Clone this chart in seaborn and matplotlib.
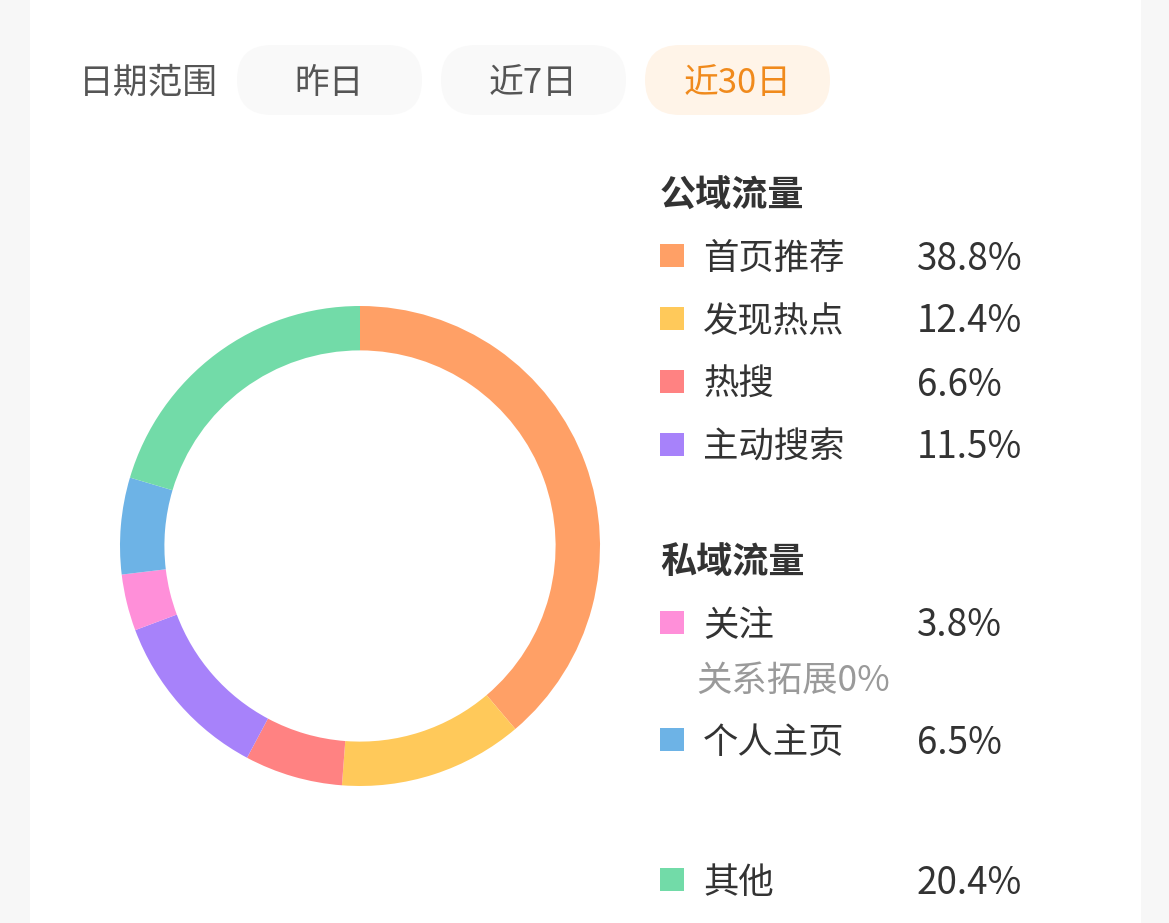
import matplotlib
matplotlib.use("Agg")
import matplotlib.pyplot as plt
import seaborn as sns
from matplotlib.patches import Rectangle, FancyBboxPatch

# data (clockwise from 12 o'clock)
labels = ['首页推荐', '发现热点', '热搜', '主动搜索', '关注', '个人主页', '其他']
shares = [38.8, 12.4, 6.6, 11.5, 3.8, 6.5, 20.4]
colors = ['#FFA066', '#FFC95A', '#FF8282', '#A782FA', '#FF8FD9', '#6DB3E6', '#72DBA8']
groups = ['公域流量', '私域流量']
extra_note = '关系拓展0%'
date_title = '日期范围'
date_options = ['昨日', '近7日', '近30日']
selected = '近30日'

sns.set_theme(style="white")
plt.rcParams['font.family'] = ['Noto Sans CJK SC', 'DejaVu Sans']

W, H = 1169, 923
fig = plt.figure(figsize=(W / 100, H / 100), dpi=100)
fig.patch.set_facecolor('#F7F7F7')

# page layer in pixel coordinates
bg = fig.add_axes([0, 0, 1, 1])
bg.set_xlim(0, W)
bg.set_ylim(H, 0)
bg.axis('off')
bg.add_patch(Rectangle((30, 0), 1111, H, facecolor='white', edgecolor='none'))

dy = 3  # CJK glyphs sit a bit high with va='center'

# date range buttons
bg.text(79, 80 + dy, date_title, fontsize=25, color='#555555', va='center', ha='left')
pill_x = [237, 441, 645]
for x, opt in zip(pill_x, date_options):
    on = opt == selected
    bg.add_patch(FancyBboxPatch((x, 45), 185, 70,
                                boxstyle="round,pad=0,rounding_size=35",
                                facecolor='#FFF4E8' if on else '#F9F9F9',
                                edgecolor='none'))
    bg.text(x + 92.5, 80 + dy, opt, fontsize=25, va='center', ha='center',
            color='#F08A1C' if on else '#555555')

# legend
row_y = [256, 319, 382, 445, 623, 740, 880]
group_y = [193, 560]
for g, y in zip(groups, group_y):
    bg.text(660, y + dy, g, fontsize=26, fontweight='bold', color='#333333',
            va='center', ha='left')
for lab, val, col, y in zip(labels, shares, colors, row_y):
    bg.add_patch(Rectangle((660, y - 12), 24, 23, facecolor=col, edgecolor='none'))
    bg.text(703, y + dy, lab, fontsize=25.5, color='#333333', va='center', ha='left')
    bg.text(917, y + dy, f'{val}%', fontsize=26.5, color='#333333', va='center', ha='left')
bg.text(696, 678 + dy, extra_note, fontsize=25.5, color='#9A9A9A', va='center', ha='left')

# donut
cx, cy, r = 360, 546, 240
ax = fig.add_axes([(cx - r) / W, (H - cy - r) / H, 2 * r / W, 2 * r / H])
ax.pie(shares, colors=colors, startangle=90, counterclock=False, radius=1,
       wedgeprops=dict(width=0.185, linewidth=0))
ax.set_xlim(-1, 1)
ax.set_ylim(-1, 1)
ax.set_aspect('auto')
ax.axis('off')

fig.savefig('out.png', dpi=100)
